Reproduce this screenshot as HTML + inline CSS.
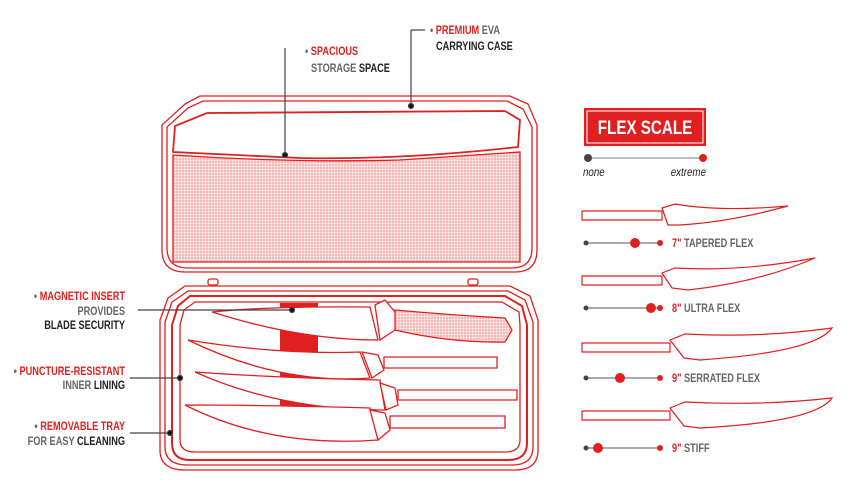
<!DOCTYPE html>
<html><head><meta charset="utf-8">
<style>
body{margin:0;background:#fff;width:855px;height:496px;overflow:hidden}
svg{display:block}
text{font-family:"Liberation Sans",sans-serif;font-weight:bold;font-size:11.5px}
.r{fill:#e02020}.g{fill:#666}.k{fill:#222}
</style></head><body>
<svg width="855" height="496" viewBox="0 0 855 496" xmlns="http://www.w3.org/2000/svg">
<defs>
<pattern id="mesh" width="3" height="3" patternUnits="userSpaceOnUse">
<rect width="3" height="3" fill="#f2bcbc"/><circle cx="1.5" cy="1.5" r="0.9" fill="#fff"/>
</pattern>
</defs>
<g fill="none" stroke="#e02020" stroke-width="1.3">
<path d="M185 104 L200 96 L510 96 L528 104 L537 125 L537 250 Q537 272 515 272 L185 272 Q162 272 162 250 L162 125 Z"/>
<path d="M188 108 L203 101 L507 101 L523 109 L532 127 L532 248 Q532 268 512 268 L188 268 Q167 268 167 248 L167 127 Z"/>
<path d="M207 113 L505 111 L520 120 L518 147 Q400 160 300 158 L173 152 L175 126 Z" stroke-width="1.8"/>
<path d="M173 155 Q290 163 400 160 L520 152 L520 262 L173 262 Z" fill="url(#mesh)"/>
<rect x="208" y="279" width="10" height="6" rx="2"/><rect x="468" y="279" width="10" height="6" rx="2"/>
<path d="M185 286 L510 286 L530 296 L538 320 L538 450 Q538 470 515 470 L185 470 Q160 470 160 450 L160 320 L168 298 Z"/>
<path d="M188 291 L508 291 L525 300 L533 322 L533 447 Q533 465 512 465 L188 465 Q165 465 165 447 L165 322 L172 302 Z"/>
<path d="M190 296 L505 296 L522 306 L527 325 L527 443 Q527 460 508 460 L190 460 Q172 460 172 443 L172 325 L178 306 Z" stroke-width="2"/>
<path d="M195 302 L502 302 L519 312 L520 325 L520 440 Q520 452 505 452 L195 452 Q180 452 180 440 L180 325 L184 310 Z"/>
</g>
<rect x="280" y="303" width="38" height="115" fill="#e02020"/>
<g fill="#fff" stroke="#e02020" stroke-width="1.3">
<path d="M212 312 Q270 306 370 307 L378 340 Q300 340 212 312 Z"/>
<path d="M375 305 L385 300 L400 318 L395 330 L380 340 Z"/>
<path d="M395 310 Q450 315 505 318 L512 330 L505 342 Q450 343 395 330 Z" fill="url(#mesh)"/>
<path d="M188 340 Q280 355 360 352 L370 378 Q280 385 188 340 Z"/>
<path d="M362 352 L378 355 L384 370 L372 378 Z"/>
<path d="M384 357 L497 357 L497 368 L384 368 Z"/>
<path d="M195 372 Q280 378 380 380 L385 410 Q280 410 195 372 Z"/>
<path d="M380 383 L395 388 L398 405 L386 410 Z"/>
<path d="M398 390 L517 390 L517 400 L398 400 Z"/>
<path d="M185 405 Q260 405 370 408 L378 440 Q270 448 185 405 Z"/>
<path d="M370 410 L385 413 L390 430 L378 440 Z"/>
<path d="M390 416 L505 416 L505 428 L390 428 Z"/>
</g>
<g stroke="#444" stroke-width="1.2" fill="#111">
<line x1="285" y1="48" x2="285" y2="155"/><circle cx="285" cy="155" r="2.5"/>
<line x1="411" y1="30" x2="411" y2="106"/><line x1="411" y1="30" x2="425" y2="30"/><circle cx="411" cy="106" r="2.5"/>
<line x1="138" y1="310" x2="292" y2="310"/><circle cx="292" cy="310" r="2.5"/>
<line x1="130" y1="378" x2="180" y2="378"/><circle cx="180" cy="378" r="2.5"/>
<line x1="130" y1="433" x2="170" y2="433"/><circle cx="170" cy="433" r="2.5"/>
</g>
<g transform="translate(305,55) scale(0.8,1)"><text><tspan class="g">• </tspan><tspan class="r">SPACIOUS</tspan></text></g>
<g transform="translate(311,72) scale(0.8,1)"><text><tspan class="g">STORAGE </tspan><tspan class="k">SPACE</tspan></text></g>
<g transform="translate(430,34) scale(0.8,1)"><text><tspan class="g">• </tspan><tspan class="r">PREMIUM </tspan><tspan class="g">EVA</tspan></text></g>
<g transform="translate(436,50) scale(0.8,1)"><text class="k">CARRYING CASE</text></g>
<g transform="translate(125,300) scale(0.8,1)"><text text-anchor="end"><tspan class="g">• </tspan><tspan class="r">MAGNETIC INSERT</tspan></text></g>
<g transform="translate(125,315) scale(0.8,1)"><text text-anchor="end" class="g">PROVIDES</text></g>
<g transform="translate(125,329) scale(0.8,1)"><text text-anchor="end" class="k">BLADE SECURITY</text></g>
<g transform="translate(125,375) scale(0.8,1)"><text text-anchor="end"><tspan class="g">• </tspan><tspan class="r">PUNCTURE-RESISTANT</tspan></text></g>
<g transform="translate(125,389) scale(0.8,1)"><text text-anchor="end"><tspan class="g">INNER </tspan><tspan class="k">LINING</tspan></text></g>
<g transform="translate(125,430) scale(0.8,1)"><text text-anchor="end"><tspan class="g">• </tspan><tspan class="r">REMOVABLE TRAY</tspan></text></g>
<g transform="translate(125,445) scale(0.8,1)"><text text-anchor="end"><tspan class="g">FOR EASY </tspan><tspan class="k">CLEANING</tspan></text></g>
<rect x="584" y="108" width="122" height="38" fill="#e02020"/>
<rect x="587" y="111" width="116" height="32" fill="none" stroke="#fff" stroke-width="1"/>
<g transform="translate(645,134) scale(0.8,1)"><text text-anchor="middle" fill="#fff" style="font-size:19px">FLEX SCALE</text></g>
<line x1="588" y1="158" x2="703" y2="158" stroke="#999" stroke-width="1.2"/>
<circle cx="588" cy="158" r="4" fill="#444"/><circle cx="703" cy="158" r="4" fill="#e02020"/>
<g transform="translate(583,176) scale(0.85,1)"><text class="k" style="font-style:italic;font-weight:normal">none</text></g>
<g transform="translate(706,176) scale(0.85,1)"><text class="k" text-anchor="end" style="font-style:italic;font-weight:normal">extreme</text></g>
<g fill="#fff" stroke="#e02020" stroke-width="1.2">
<path d="M582 211 L662 211 L662 220 L582 220 Z"/><path d="M662 208 L675 204 Q720 212 788 206 Q730 222 680 225 L668 225 Z"/>
<path d="M582 276 L662 276 L662 285 L582 285 Z"/><path d="M662 273 L675 268 Q740 272 815 258 Q760 282 688 290 L672 288 Z"/>
<path d="M582 343 L670 343 L670 352 L582 352 Z"/><path d="M670 340 L685 334 Q760 338 832 328 Q815 352 700 360 L684 358 Z"/>
<path d="M582 411 L670 411 L670 420 L582 420 Z"/><path d="M670 408 L685 402 Q760 406 832 398 Q815 422 700 428 L684 426 Z"/>
</g>
<g stroke="#777" stroke-width="1.2">
<line x1="586" y1="243" x2="660" y2="243"/><line x1="586" y1="308" x2="660" y2="308"/>
<line x1="586" y1="378" x2="660" y2="378"/><line x1="586" y1="448" x2="660" y2="448"/>
</g>
<g>
<circle cx="586" cy="243" r="2.5" fill="#444"/><circle cx="635" cy="243" r="5" fill="#e02020"/><circle cx="660" cy="243" r="3" fill="#e02020"/>
<circle cx="586" cy="308" r="2.5" fill="#444"/><circle cx="651" cy="308" r="5" fill="#e02020"/><circle cx="660" cy="308" r="3" fill="#e02020"/>
<circle cx="586" cy="378" r="2.5" fill="#444"/><circle cx="620" cy="378" r="5" fill="#e02020"/><circle cx="660" cy="378" r="3" fill="#e02020"/>
<circle cx="586" cy="448" r="2.5" fill="#444"/><circle cx="598" cy="448" r="5" fill="#e02020"/><circle cx="660" cy="448" r="3" fill="#e02020"/>
</g>
<g transform="translate(672,247) scale(0.8,1)"><text><tspan class="r">7" </tspan><tspan class="g">TAPERED FLEX</tspan></text></g>
<g transform="translate(672,312) scale(0.8,1)"><text><tspan class="r">8" </tspan><tspan class="g">ULTRA FLEX</tspan></text></g>
<g transform="translate(672,382) scale(0.8,1)"><text><tspan class="r">9" </tspan><tspan class="g">SERRATED FLEX</tspan></text></g>
<g transform="translate(672,452) scale(0.8,1)"><text><tspan class="r">9" </tspan><tspan class="g">STIFF</tspan></text></g>
</svg>
</body></html>
